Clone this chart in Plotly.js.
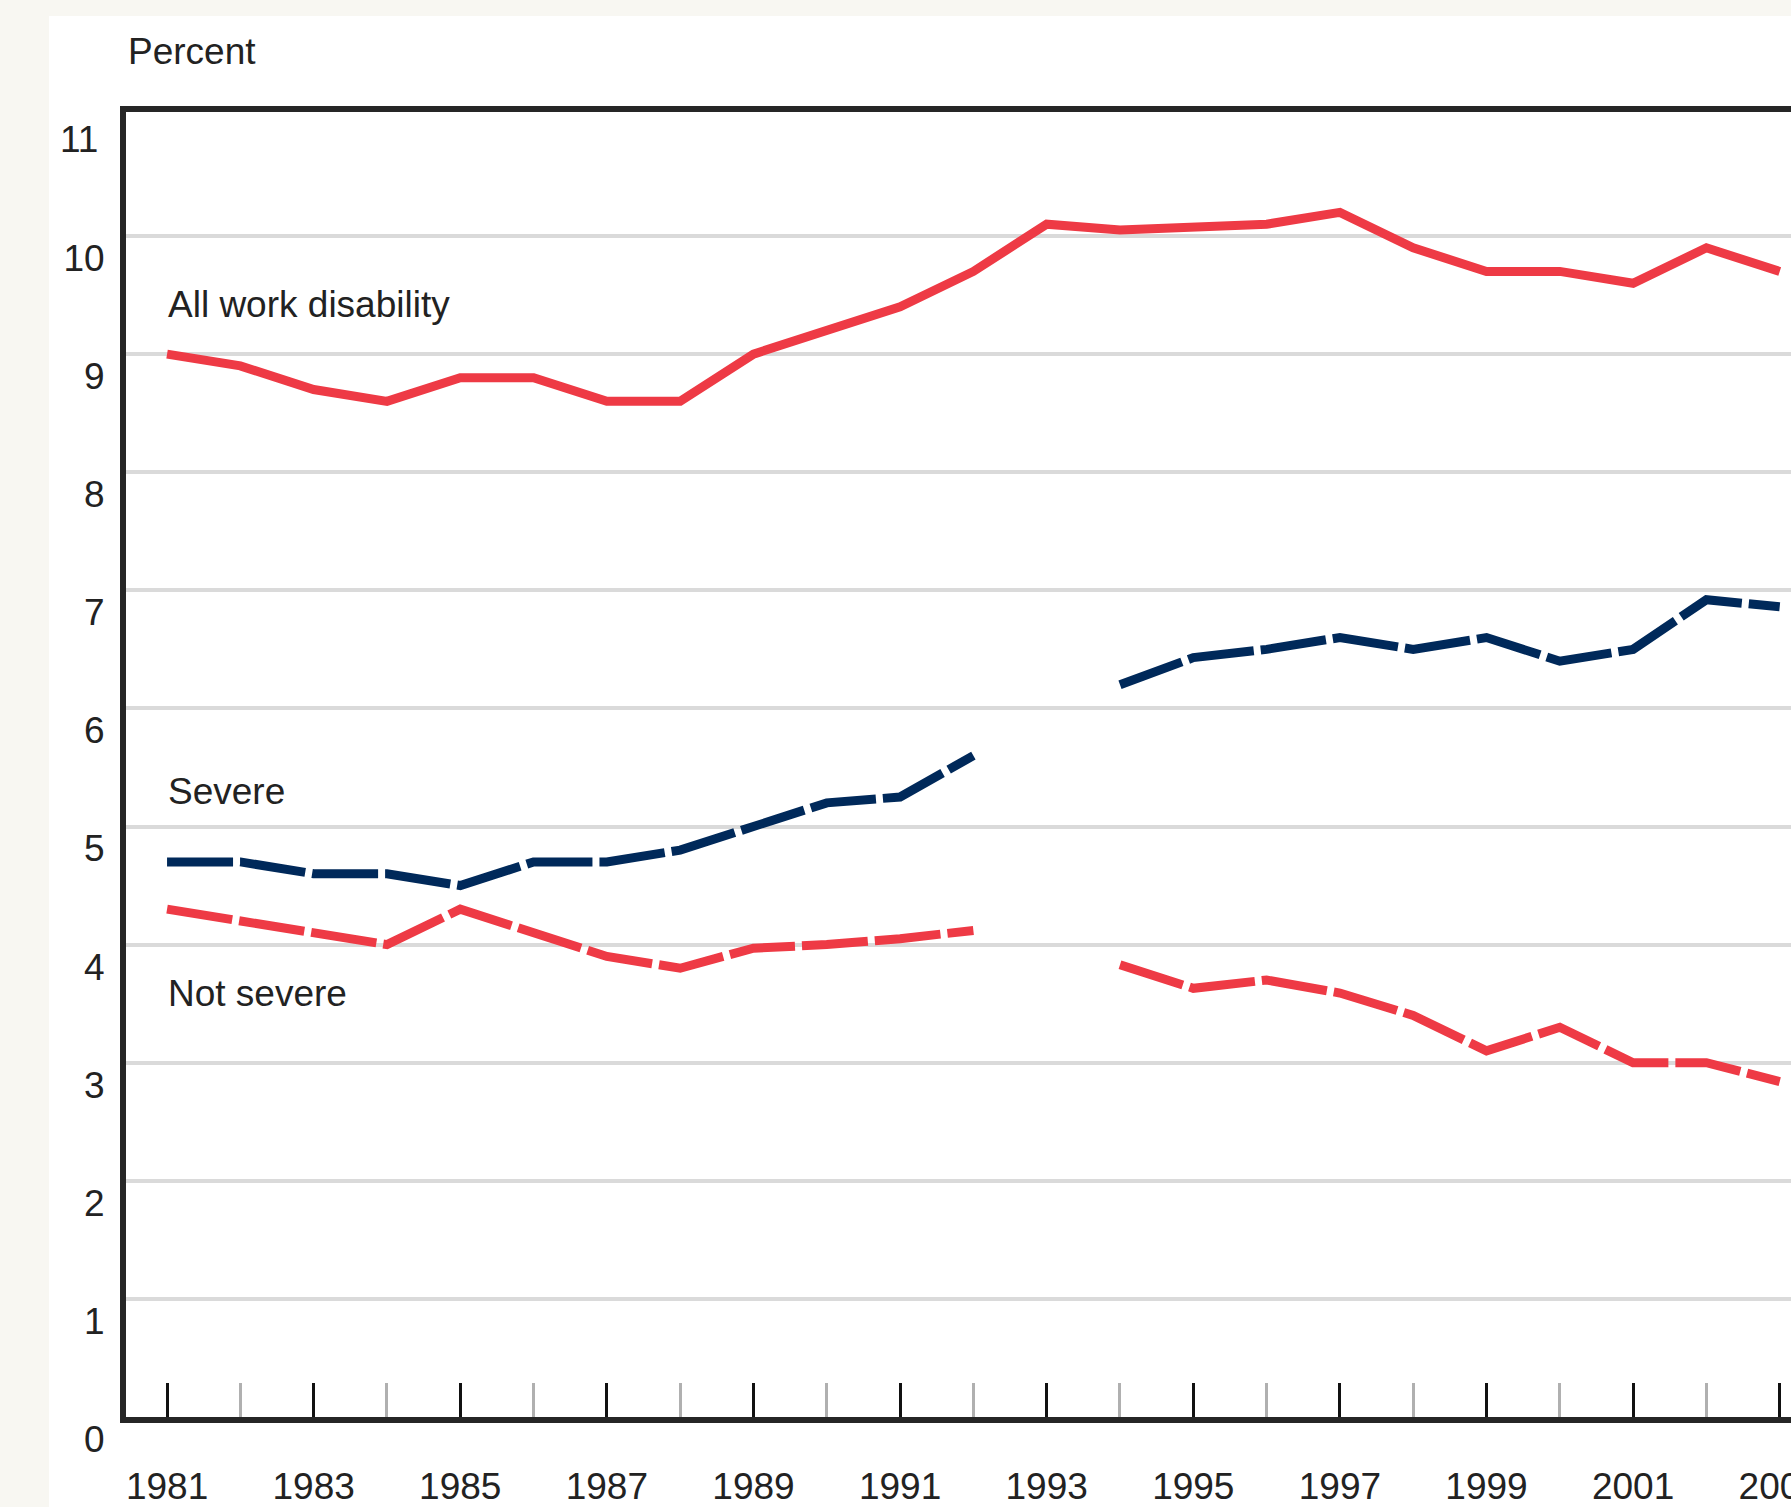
<!DOCTYPE html>
<html>
<head>
<meta charset="utf-8">
<script src="https://cdn.plot.ly/plotly-3.0.1.min.js"></script>
<style>
  html, body { margin: 0; padding: 0; overflow: hidden; background: #f8f7f2; width: 1791px; height: 1507px; }
  #panel { position: absolute; left: 49px; top: 16px; width: 1800px; height: 1600px; background: #ffffff; }
  #chart { position: absolute; left: 0; top: 0; }
</style>
</head>
<body>
<div id="panel"></div>
<div id="chart"></div>
<script>
// years shown on the axis
var years = [1981, 1982, 1983, 1984, 1985, 1986, 1987, 1988, 1989, 1990, 1991, 1992,
             1993, 1994, 1995, 1996, 1997, 1998, 1999, 2000, 2001, 2002, 2003];

// percent (null = no data for 1993)
var allWork = [9.0, 8.9, 8.7, 8.6, 8.8, 8.8, 8.6, 8.6, 9.0, 9.2, 9.4, 9.7,
               10.1, 10.05, 10.07, 10.1, 10.2, 9.9, 9.7, 9.7, 9.6, 9.9, 9.7];
var severe = [4.7, 4.7, 4.6, 4.6, 4.5, 4.7, 4.7, 4.8, 5.0, 5.2, 5.25, 5.6,
              null, 6.2, 6.43, 6.5, 6.6, 6.5, 6.6, 6.4, 6.5, 6.92, 6.86];
var notSevere = [4.3, 4.2, 4.1, 4.0, 4.3, 4.1, 3.9, 3.8, 3.97, 4.0, 4.05, 4.12,
                 null, 3.83, 3.63, 3.7, 3.59, 3.4, 3.1, 3.3, 3.0, 3.0, 2.84];

var yTicks = [0, 1, 2, 3, 4, 5, 6, 7, 8, 9, 10];
var topTick = 11;

var RED = '#ee3a45';
var NAVY = '#00295a';
var FONT = '"Liberation Sans", Arial, sans-serif';
var FS = 37;

var traces = [
  { x: years, y: allWork, type: 'scatter', mode: 'lines', name: 'All work disability',
    line: { color: RED, width: 9 } },
  { x: years, y: severe, type: 'scatter', mode: 'lines', name: 'Severe', connectgaps: false,
    line: { color: NAVY, width: 9, dash: '66px,7px' } },
  { x: years, y: notSevere, type: 'scatter', mode: 'lines', name: 'Not severe', connectgaps: false,
    line: { color: RED, width: 9, dash: '66px,7px' } }
];

var layout = {
  width: 1950,
  height: 1507,
  margin: { l: 126, r: 53, t: 112, b: 90 },
  paper_bgcolor: 'rgba(0,0,0,0)',
  plot_bgcolor: '#ffffff',
  showlegend: false,
  font: { family: FONT, size: FS, color: '#222222' },
  xaxis: {
    range: [1980.44, 2004.6],
    tick0: 1981,
    dtick: 2,
    ticks: 'inside',
    ticklen: 34,
    tickwidth: 3,
    tickcolor: '#111111',
    minor: { dtick: 1, ticks: 'inside', ticklen: 34, tickwidth: 3, tickcolor: '#b0b0b0', showgrid: false },
    showgrid: false,
    zeroline: false,
    showline: true,
    linecolor: '#262626',
    linewidth: 6,
    mirror: true,
    ticklabelstandoff: 32,
    tickfont: { family: FONT, size: FS, color: '#222222' }
  },
  yaxis: {
    range: [0, 11.05],
    tickvals: yTicks,
    ticks: '',
    showgrid: true,
    gridcolor: '#dadada',
    gridwidth: 4,
    zeroline: false,
    showline: true,
    linecolor: '#262626',
    linewidth: 6,
    mirror: true,
    ticklabelshift: 22,
    ticklabelstandoff: 8,
    tickfont: { family: FONT, size: FS, color: '#222222' }
  },
  annotations: [
    { text: String(topTick), xref: 'paper', yref: 'y', x: -0.0145, y: topTick, yshift: -22,
      xanchor: 'right', yanchor: 'middle', showarrow: false },
    { text: 'Percent', xref: 'paper', yref: 'paper', x: 0.0, y: 1.046, xanchor: 'left', yanchor: 'middle', showarrow: false },
    { text: 'All work disability', xref: 'x', yref: 'y', x: 1980.98, y: 9.42, xanchor: 'left', yanchor: 'middle', showarrow: false },
    { text: 'Severe', xref: 'x', yref: 'y', x: 1980.98, y: 5.30, xanchor: 'left', yanchor: 'middle', showarrow: false },
    { text: 'Not severe', xref: 'x', yref: 'y', x: 1980.98, y: 3.59, xanchor: 'left', yanchor: 'middle', showarrow: false }
  ]
};

Plotly.newPlot('chart', traces, layout, { staticPlot: true, displayModeBar: false });
</script>
</body>
</html>
